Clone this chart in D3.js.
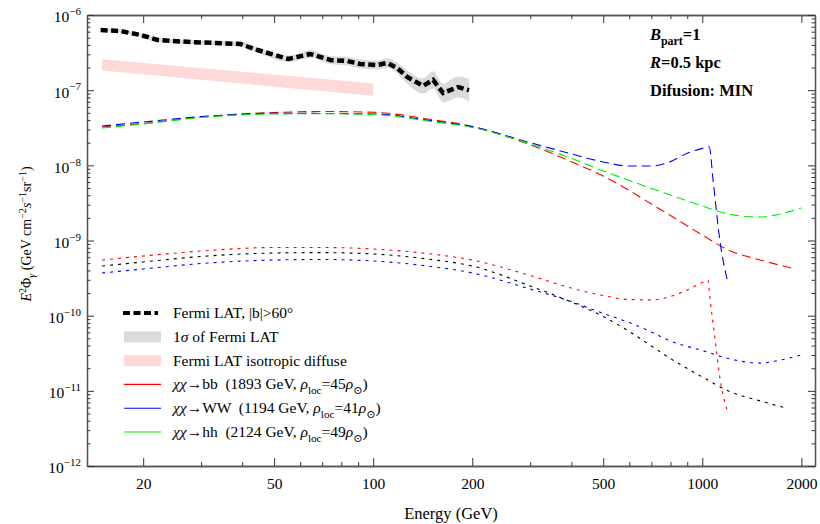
<!DOCTYPE html>
<html>
<head>
<meta charset="utf-8">
<script src="https://cdn.jsdelivr.net/npm/d3@7"></script>
<style>
body { margin: 0; background: #fff; }
svg text { font-family: "Liberation Serif", "DejaVu Serif", serif !important; fill: #000; white-space: pre; }
</style>
</head>
<body>
<div id="chart"></div>
<script>
// Fermi LAT |b|>60 data
const fermiE = [14.85, 17.06, 19.63, 22.1, 27.8, 39.5, 44.5, 55.2, 64.4, 74.0, 83.4, 91.3, 102.8, 110.3, 118.3, 126.8, 141.8, 152.1, 163.1, 171.3, 181.1, 195.6];
const fermiFlux = [6.31e-7, 6.12e-7, 5.42e-7, 4.65e-7, 4.37e-7, 4.11e-7, 3.42e-7, 2.60e-7, 3.03e-7, 2.52e-7, 2.44e-7, 2.23e-7, 2.16e-7, 2.30e-7, 1.97e-7, 1.50e-7, 1.14e-7, 1.37e-7, 9.17e-8, 1.00e-7, 1.10e-7, 1.00e-7];
const fermiSigma = [0.05, 0.05, 0.05, 0.06, 0.06, 0.07, 0.08, 0.1, 0.12, 0.13, 0.14, 0.15, 0.15, 0.16, 0.18, 0.22, 0.26, 0.3, 0.33, 0.36, 0.38, 0.4];

// isotropic diffuse band
const isoE = [15, 100];
const isoLow = [1.82e-7, 8.44e-8];
const isoHigh = [2.57e-7, 1.23e-7];

// dark matter curves (dashed)
const bbE = [15, 20, 30, 50, 70, 100, 150, 200, 300, 400, 500, 600, 700, 800, 1000, 1200, 1500, 1893];
const bbDashed = [3.24e-8, 3.6e-8, 4.4e-8, 5.04e-8, 5.2e-8, 5.08e-8, 4.07e-8, 3.29e-8, 1.87e-8, 1.12e-8, 7.21e-9, 4.63e-9, 3.06e-9, 2.15e-9, 1.18e-9, 7.48e-10, 5.5e-10, 4.24e-10];
const wwE = [15, 20, 30, 50, 70, 100, 150, 200, 300, 400, 500, 600, 700, 800, 900, 1000, 1050, 1078, 1130, 1194];
const wwDashed = [3.34e-8, 3.77e-8, 4.44e-8, 4.92e-8, 4.9e-8, 4.82e-8, 3.93e-8, 3.27e-8, 2.0e-8, 1.42e-8, 1.11e-8, 9.8e-9, 9.8e-9, 1.12e-8, 1.45e-8, 1.68e-8, 1.77e-8, 6.4e-9, 1.02e-9, 2.83e-10];
const hhE = [15, 20, 30, 50, 70, 100, 150, 200, 300, 400, 500, 600, 700, 800, 1000, 1200, 1500, 1700, 2000];
const hhDashed = [3.14e-8, 3.55e-8, 4.33e-8, 4.82e-8, 4.86e-8, 4.74e-8, 3.83e-8, 3.19e-8, 1.92e-8, 1.24e-8, 8.4e-9, 6.29e-9, 4.92e-9, 4.03e-9, 2.88e-9, 2.25e-9, 2.05e-9, 2.22e-9, 2.71e-9];

// dotted curves
const dotRedE = [15, 20, 30, 50, 70, 100, 150, 200, 300, 400, 500, 600, 700, 800, 900, 1000, 1040, 1054, 1091, 1130, 1190];
const dotRed = [5.5e-10, 6.22e-10, 7.25e-10, 8.07e-10, 8.07e-10, 7.7e-10, 6.62e-10, 5.5e-10, 3.42e-10, 2.33e-10, 1.85e-10, 1.64e-10, 1.62e-10, 1.8e-10, 2.2e-10, 2.76e-10, 2.98e-10, 1.77e-10, 5.2e-11, 1.53e-11, 5.4e-12];
const dotBlackE = [15, 20, 30, 50, 70, 100, 150, 200, 300, 400, 500, 600, 700, 800, 1000, 1200, 1500, 1800];
const dotBlack = [4.58e-10, 5.18e-10, 6.13e-10, 6.82e-10, 6.9e-10, 6.62e-10, 5.59e-10, 4.58e-10, 2.48e-10, 1.52e-10, 9.75e-11, 6.16e-11, 3.95e-11, 2.69e-11, 1.53e-11, 9.95e-12, 7.33e-12, 5.91e-12];
const dotBlueE = [15, 20, 30, 50, 70, 100, 150, 200, 300, 400, 500, 600, 700, 800, 1000, 1200, 1500, 1700, 2000];
const dotBlue = [3.7e-10, 4.18e-10, 4.94e-10, 5.5e-10, 5.59e-10, 5.34e-10, 4.51e-10, 3.7e-10, 2.26e-10, 1.54e-10, 1.07e-10, 8.1e-11, 6.06e-11, 4.6e-11, 3.44e-11, 2.69e-11, 2.34e-11, 2.53e-11, 3.0e-11];

// ticks
const xMajor = [20, 50, 100, 200, 500, 1000, 2000];
const xMinor = [30, 40, 60, 70, 80, 90, 300, 400, 600, 700, 800, 900];
const yMajor = [1e-12, 1e-11, 1e-10, 1e-9, 1e-8, 1e-7, 1e-6];
const yMinor = [];
for (let p = -12; p < -6; p++) for (let m = 2; m <= 9; m++) yMinor.push(m * Math.pow(10, p));

const FONT = "Liberation Serif, DejaVu Serif, serif";
const width = 820, height = 524;
const margin = {top: 15, right: 5, bottom: 58, left: 87};

const svg = d3.select("#chart").append("svg")
  .attr("width", width).attr("height", height)
  .attr("font-family", FONT);

const x = d3.scaleLog().domain([13.5, 2200]).range([margin.left, width - margin.right]);
const y = d3.scaleLog().domain([1e-12, 1e-6]).range([height - margin.bottom, margin.top]);

svg.append("defs").append("clipPath").attr("id", "clip")
  .append("rect")
  .attr("x", margin.left).attr("y", margin.top)
  .attr("width", width - margin.left - margin.right)
  .attr("height", height - margin.top - margin.bottom);

const plot = svg.append("g").attr("clip-path", "url(#clip)");

// gray 1 sigma band
const fermiRows = fermiE.map((e, i) => ({e: e, v: fermiFlux[i], s: fermiSigma[i]}));
plot.append("path")
  .datum(fermiRows)
  .attr("fill", "#dadada")
  .attr("d", d3.area()
    .x(d => x(d.e))
    .y0(d => y(d.v / (1 + d.s)))
    .y1(d => y(d.v * (1 + d.s)))
    .curve(d3.curveMonotoneX));

// isotropic diffuse band
const isoRows = isoE.map((e, i) => ({e: e, lo: isoLow[i], hi: isoHigh[i]}));
plot.append("path")
  .datum(isoRows)
  .attr("fill", "#ffd8d8")
  .attr("d", d3.area().x(d => x(d.e)).y0(d => y(d.lo)).y1(d => y(d.hi)));

const line = d3.line().x(d => x(d[0])).y(d => y(d[1])).curve(d3.curveMonotoneX);

const curves = [
  {E: bbE, v: bbDashed, color: "#ff0000", dash: "9,5"},
  {E: wwE, v: wwDashed, color: "#0000ff", dash: "9,5"},
  {E: hhE, v: hhDashed, color: "#00ee00", dash: "9,5"},
  {E: dotRedE, v: dotRed, color: "#ff0000", dash: "3,5"},
  {E: dotBlackE, v: dotBlack, color: "#000000", dash: "3,5"},
  {E: dotBlueE, v: dotBlue, color: "#0000ff", dash: "3,5"}
];

curves.forEach(c => {
  plot.append("path")
    .datum(c.E.map((e, i) => [e, c.v[i]]))
    .attr("fill", "none")
    .attr("stroke", c.color)
    .attr("stroke-width", 1.1)
    .attr("stroke-dasharray", c.dash)
    .attr("d", line);
});

// Fermi data line
plot.append("path")
  .datum(fermiE.map((e, i) => [e, fermiFlux[i]]))
  .attr("fill", "none")
  .attr("stroke", "#000")
  .attr("stroke-width", 4.5)
  .attr("stroke-dasharray", "7,3.5")
  .attr("d", d3.line().x(d => x(d[0])).y(d => y(d[1])));

// axes
function styleAxis(g) {
  g.attr("font-family", FONT).attr("font-size", 15.5);
  g.select(".domain").attr("stroke", "#555").attr("stroke-width", 1.3);
  g.selectAll(".tick line").attr("stroke", "#333");
  g.selectAll(".tick text").attr("fill", "#000");
}

const bottom = height - margin.bottom, right = width - margin.right;

const xb = svg.append("g").attr("transform", "translate(0," + bottom + ")")
  .call(d3.axisBottom(x).tickValues(xMajor).tickSize(-8).tickSizeOuter(0).tickPadding(12).tickFormat(d3.format("d")));
styleAxis(xb);
svg.append("g").attr("transform", "translate(0," + bottom + ")")
  .call(d3.axisBottom(x).tickValues(xMinor).tickSize(-4).tickSizeOuter(0).tickFormat(""))
  .call(styleAxis);
svg.append("g").attr("transform", "translate(0," + margin.top + ")")
  .call(d3.axisTop(x).tickValues(xMajor).tickSize(-8).tickSizeOuter(0).tickFormat(""))
  .call(styleAxis);
svg.append("g").attr("transform", "translate(0," + margin.top + ")")
  .call(d3.axisTop(x).tickValues(xMinor).tickSize(-4).tickSizeOuter(0).tickFormat(""))
  .call(styleAxis);

const yl = svg.append("g").attr("transform", "translate(" + margin.left + ",0)")
  .call(d3.axisLeft(y).tickValues(yMajor).tickSize(-7).tickSizeOuter(0).tickPadding(6));
styleAxis(yl);
yl.selectAll(".tick text").each(function(d) {
  const t = d3.select(this).text(null).attr("dy", "0.45em");
  t.append("tspan").text("10");
  t.append("tspan").attr("dy", "-0.65em").attr("font-size", 11).text("\u2212" + (-Math.round(Math.log10(d))));
});
svg.append("g").attr("transform", "translate(" + margin.left + ",0)")
  .call(d3.axisLeft(y).tickValues(yMinor).tickSize(-3.5).tickSizeOuter(0).tickFormat(""))
  .call(styleAxis);
svg.append("g").attr("transform", "translate(" + right + ",0)")
  .call(d3.axisRight(y).tickValues(yMajor).tickSize(-7).tickSizeOuter(0).tickFormat(""))
  .call(styleAxis);
svg.append("g").attr("transform", "translate(" + right + ",0)")
  .call(d3.axisRight(y).tickValues(yMinor).tickSize(-3.5).tickSizeOuter(0).tickFormat(""))
  .call(styleAxis);

// rich text helper: parts with sup/sub/italic
function rich(sel, parts, fs) {
  let shift = 0;
  parts.forEach(p => {
    const target = p.s === "sup" ? -0.38 * fs : p.s === "sub" ? 0.3 * fs : 0;
    const ts = sel.append("tspan").attr("dy", target - shift).text(p.t);
    shift = target;
    if (p.s) ts.attr("font-size", fs * 0.72);
    if (p.i) ts.attr("font-style", "italic");
  });
}

// axis titles
svg.append("text")
  .attr("x", 451).attr("y", 519)
  .attr("text-anchor", "middle").attr("font-size", 16.5)
  .text("Energy (GeV)");

const ylab = svg.append("text")
  .attr("transform", "translate(31,234) rotate(-90)")
  .attr("text-anchor", "middle").attr("font-size", 14);
rich(ylab, [
  {t: "E", i: true}, {t: "2", s: "sup"}, {t: "\u03a6"}, {t: "\u03b3", s: "sub", i: true},
  {t: " (GeV cm"}, {t: "\u22122", s: "sup"}, {t: "s", i: true}, {t: "\u22121", s: "sup"},
  {t: "sr"}, {t: "\u22121", s: "sup"}, {t: ")"}
], 14);

// annotations
const ann = svg.append("g").attr("font-weight", "bold");
const a1 = ann.append("text").attr("x", 650).attr("y", 40).attr("font-size", 16.5);
rich(a1, [{t: "B", i: true}, {t: "part", s: "sub"}, {t: "=1"}], 16.5);
const a2 = ann.append("text").attr("x", 650).attr("y", 68).attr("font-size", 16.5);
rich(a2, [{t: "R", i: true}, {t: "=0.5 kpc"}], 16.5);
ann.append("text").attr("x", 650).attr("y", 96).attr("font-size", 16.5).text("Difusion: MIN");

// legend
const legendItems = [
  {type: "fermi", parts: [{t: "Fermi LAT, |b|>60\u00b0"}]},
  {type: "band", color: "#dadada", parts: [{t: "1"}, {t: "\u03c3", i: true}, {t: " of Fermi LAT"}]},
  {type: "band", color: "#ffd8d8", parts: [{t: "Fermi LAT isotropic diffuse"}]},
  {type: "line", color: "#ff0000", parts: [{t: "\u03c7\u03c7", i: true}, {t: "\u2192bb  (1893 GeV, "}, {t: "\u03c1", i: true}, {t: "loc", s: "sub"}, {t: "=45"}, {t: "\u03c1", i: true}, {t: "\u2299", s: "sub"}, {t: ")"}]},
  {type: "line", color: "#0000ff", parts: [{t: "\u03c7\u03c7", i: true}, {t: "\u2192WW  (1194 GeV, "}, {t: "\u03c1", i: true}, {t: "loc", s: "sub"}, {t: "=41"}, {t: "\u03c1", i: true}, {t: "\u2299", s: "sub"}, {t: ")"}]},
  {type: "line", color: "#00ee00", parts: [{t: "\u03c7\u03c7", i: true}, {t: "\u2192hh  (2124 GeV, "}, {t: "\u03c1", i: true}, {t: "loc", s: "sub"}, {t: "=49"}, {t: "\u03c1", i: true}, {t: "\u2299", s: "sub"}, {t: ")"}]}
];

const legend = svg.append("g");
legendItems.forEach((d, i) => {
  const cy = 313 + i * 23.8;
  if (d.type === "fermi") {
    legend.append("line").attr("x1", 123).attr("x2", 158).attr("y1", cy).attr("y2", cy)
      .attr("stroke", "#000").attr("stroke-width", 4).attr("stroke-dasharray", "7,3.5");
  } else if (d.type === "band") {
    legend.append("rect").attr("x", 124).attr("y", cy - 5.5).attr("width", 37).attr("height", 11)
      .attr("fill", d.color);
  } else {
    legend.append("line").attr("x1", 124).attr("x2", 161).attr("y1", cy).attr("y2", cy)
      .attr("stroke", d.color).attr("stroke-width", 1.1);
  }
  const t = legend.append("text").attr("x", 173).attr("y", cy + 5).attr("font-size", 15.5);
  rich(t, d.parts, 15.5);
});
</script>
</body>
</html>
